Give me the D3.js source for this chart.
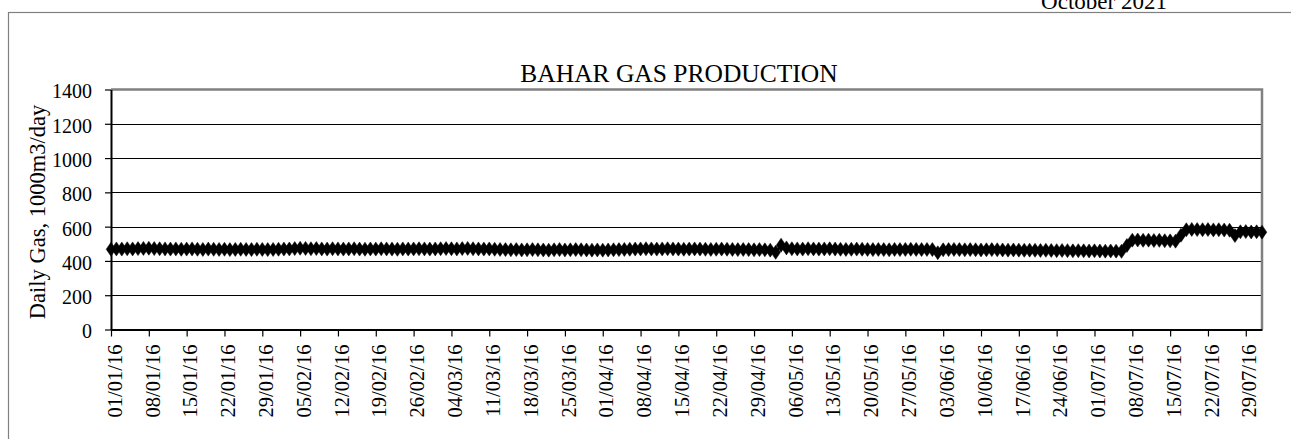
<!DOCTYPE html>
<html>
<head>
<meta charset="utf-8">
<script src="https://cdn.jsdelivr.net/npm/d3@7"></script>
<style>
  body { margin: 0; background: #fff; }
  text { font-family: "Liberation Serif", "Times New Roman", serif; fill: #000; }
</style>
</head>
<body>
<div id="chart"></div>
<script>
// Chart data
const title = "BAHAR GAS PRODUCTION"
const reportDate = "October 2021"
const yLabel = "Daily Gas, 1000m3/day"
const startDate = "01/01/16"
const yTicks = [0, 200, 400, 600, 800, 1000, 1200, 1400]
const xTickLabels = ["01/01/16", "08/01/16", "15/01/16", "22/01/16", "29/01/16", "05/02/16", "12/02/16",
    "19/02/16", "26/02/16", "04/03/16", "11/03/16", "18/03/16", "25/03/16", "01/04/16", "08/04/16",
    "15/04/16", "22/04/16", "29/04/16", "06/05/16", "13/05/16", "20/05/16", "27/05/16", "03/06/16",
    "10/06/16", "17/06/16", "24/06/16", "01/07/16", "08/07/16", "15/07/16", "22/07/16", "29/07/16"]

// daily gas, one value per day from 01/01/16 to 01/08/16
const janGas = [468, 470, 469, 471, 470, 472, 473, 474, 472, 471, 470, 469, 470, 468, 469, 470, 468, 467, 469, 468,
    467, 468, 466, 467, 468, 467, 466, 468, 467, 466, 467]
const febGas = [468, 469, 470, 472, 474, 473, 471, 472, 470, 469, 471, 470, 469, 470, 471, 469, 468, 470, 469, 471,
    470, 469, 468, 470, 469, 470, 471, 470, 469]
const marGas = [470, 471, 472, 471, 470, 472, 473, 471, 470, 469, 470, 468, 467, 466, 465, 466, 464, 465, 466, 465,
    464, 463, 465, 466, 464, 465, 466, 465, 464, 463, 464]
const aprGas = [463, 464, 465, 466, 467, 468, 469, 470, 471, 470, 469, 470, 471, 470, 469, 468, 469, 470, 469, 468,
    467, 468, 469, 468, 467, 466, 467, 466, 465, 466]
const mayGas = [465, 463, 450, 492, 476, 471, 470, 469, 471, 470, 469, 470, 471, 469, 468, 467, 468, 469, 468, 467,
    466, 467, 466, 465, 467, 466, 467, 468, 467, 466, 467]
const junGas = [466, 448, 465, 466, 467, 466, 465, 466, 465, 464, 465, 466, 465, 464, 463, 464, 463, 462, 463, 462,
    461, 462, 461, 460, 461, 460, 459, 460, 459, 458]
const julGas = [459, 458, 457, 458, 457, 456, 490, 521, 522, 520, 521, 519, 520, 518, 517, 515, 550, 582, 584, 583,
    582, 583, 581, 582, 580, 579, 548, 570, 571, 569, 570]
const augGas = [568]

const gas = [...janGas, ...febGas, ...marGas, ...aprGas, ...mayGas, ...junGas, ...julGas, ...augGas]

// Environment variables
const width = 1291
const height = 439
const plot = { left: 111, right: 1262, top: 89.5, bottom: 329.5 }

const parseDate = d3.timeParse("%d/%m/%y")
const day0 = parseDate(startDate)
const points = gas.map((v, i) => ({ date: d3.timeDay.offset(day0, i), value: v }))

const x = d3.scaleTime()
    .domain([day0, points[points.length - 1].date])
    .range([plot.left, plot.right])

const y = d3.scaleLinear()
    .domain([0, 1400])
    .range([plot.bottom, plot.top])

let svg = d3.select("#chart")
    .append("svg")
    .attr("width", width)
    .attr("height", height)

// Outer frame (runs off the page on the right and bottom)
svg.append("rect")
    .attr("x", 8.5).attr("y", 12.5)
    .attr("width", width + 20).attr("height", height + 20)
    .style("fill", "none")
    .style("stroke", "#808080")
    .style("stroke-width", 1.2)

// date sits above the frame, cut by the page top as in the source
svg.append("text")
    .attr("x", 1104).attr("y", 9)
    .attr("text-anchor", "middle")
    .style("font-size", "23px")
    .text(reportDate)

svg.append("text")
    .attr("x", 679).attr("y", 82)
    .attr("text-anchor", "middle")
    .style("font-size", "25.5px")
    .text(title)

// Gridlines
svg.append("g")
    .selectAll("line")
    .data(yTicks.filter(d => d > 0 && d < 1400))
    .enter()
    .append("line")
    .attr("x1", plot.left).attr("x2", plot.right)
    .attr("y1", d => Math.round(y(d)) + 0.5)
    .attr("y2", d => Math.round(y(d)) + 0.5)
    .style("stroke", "#000")
    .style("stroke-width", 1)

// Plot area top / right border
svg.append("path")
    .attr("d", `M${plot.left},${plot.top}H${plot.right}V${plot.bottom}`)
    .style("fill", "none")
    .style("stroke", "#808080")
    .style("stroke-width", 2.5)

// Y axis
let yAxis = svg.append("g")
    .attr("transform", `translate(${plot.left},0)`)
    .call(d3.axisLeft(y).tickValues(yTicks).tickFormat(d3.format("d"))
        .tickSize(6).tickPadding(13).tickSizeOuter(0))
yAxis.select(".domain").style("stroke", "#000").style("stroke-width", 2)
yAxis.selectAll(".tick line").style("stroke", "#000").style("stroke-width", 1.2)
yAxis.selectAll("text")
    .style("font-size", "20px")
    .attr("dy", "0.42em")

svg.append("text")
    .attr("transform", "translate(40,212) rotate(-90)")
    .attr("text-anchor", "middle")
    .attr("dominant-baseline", "middle")
    .style("font-size", "22.5px")
    .text(yLabel)

// X axis
let xAxis = svg.append("g")
    .attr("transform", `translate(0,${plot.bottom})`)
    .call(d3.axisBottom(x)
        .tickValues(xTickLabels.map(parseDate))
        .tickFormat(d3.timeFormat("%d/%m/%y"))
        .tickSize(7)
        .tickSizeOuter(0))
xAxis.select(".domain").style("stroke", "#000").style("stroke-width", 2)
xAxis.selectAll(".tick line").style("stroke", "#000").style("stroke-width", 1.2)
xAxis.selectAll("text")
    .style("font-size", "20.5px")
    .attr("text-anchor", "end")
    .attr("transform", "rotate(-90)")
    .attr("x", -15)
    .attr("y", 3)
    .attr("dy", "0.35em")

// Series line
svg.append("path")
    .datum(points)
    .attr("d", d3.line().x(d => x(d.date)).y(d => y(d.value)))
    .style("fill", "none")
    .style("stroke", "#000")
    .style("stroke-width", 2)

// Diamond markers
svg.append("g")
    .selectAll("path")
    .data(points)
    .enter()
    .append("path")
    .attr("transform", d => `translate(${x(d.date)},${y(d.value)})`)
    .attr("d", "M0,-7L4.8,0L0,7L-4.8,0Z")
    .style("fill", "#000")
    .style("stroke", "#000")
    .style("stroke-width", 0.5)
</script>
</body>
</html>
